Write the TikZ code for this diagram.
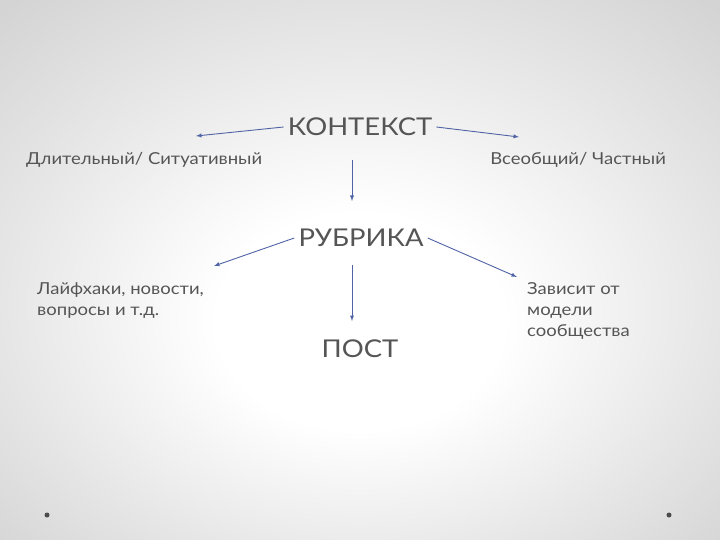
\documentclass[tikz,border=0pt]{standalone}
\usepackage{fontspec}
\setmainfont{Lato}[FakeStretch=1.12]
\usetikzlibrary{positioning}
\definecolor{txtgray}{RGB}{85,85,85}
\definecolor{arrblue}{RGB}{80,100,165}
\pgfdeclareradialshading{slidebg}{\pgfpoint{0bp}{-6bp}}{%
  color(0bp)=(white); color(10bp)=(white); color(25bp)=(black!10);
  color(36bp)=(black!17); color(50bp)=(black!17)}
\tikzstyle{head}=[text=txtgray,font=\fontsize{24.5}{30}\selectfont,inner sep=4pt]
\tikzstyle{note}=[text=txtgray,font=\fontsize{16.5}{21}\selectfont,align=left,inner sep=2pt]
\tikzstyle{link}=[draw=arrblue,line width=0.9pt,-latex]

\begin{document}
\begin{tikzpicture}[x=1pt,y=-1pt]
    \shade[shading=slidebg] (0,0) rectangle (720,540);
    \useasboundingbox (0,0) rectangle (720,540);

    \node[head] (kontekst) at (360,127) {КОНТЕКСТ};
    \node[head] (rubrika) at (361,238) {РУБРИКА};
    \node[head] (post) at (360,349) {ПОСТ};

    \node[note, anchor=west] (dlit) at (24,160) {Длительный/ Ситуативный};
    \node[note, anchor=east] (vseob) at (668,160) {Всеобщий/ Частный};
    \node[note, anchor=north west] (lajf) at (35,280) {Лайфхаки, новости,\\вопросы и т.д.};
    \node[note, anchor=north west] (zavis) at (525,280) {Зависит от\\модели\\сообщества};

    \coordinate (k_l) at (196,136);
    \coordinate (k_r) at (519,137);
    \coordinate (k_d0) at (352,160);
    \coordinate (k_d1) at (352,201);
    \coordinate (r_l) at (214,266);
    \coordinate (r_r) at (517,277);
    \coordinate (r_d0) at (352,265);
    \coordinate (r_d1) at (352,321);

    \draw[link] (kontekst.west) -- (k_l);
    \draw[link] (kontekst.east) -- (k_r);
    \draw[link] (k_d0) -- (k_d1);
    \draw[link] (rubrika.west) -- (r_l);
    \draw[link] (rubrika.east) -- (r_r);
    \draw[link] (r_d0) -- (r_d1);

    \fill[gray!60!black] (47,515) circle (2.5);
    \fill[gray!60!black] (669,515) circle (2.5);
  \end{tikzpicture}
\end{document}
